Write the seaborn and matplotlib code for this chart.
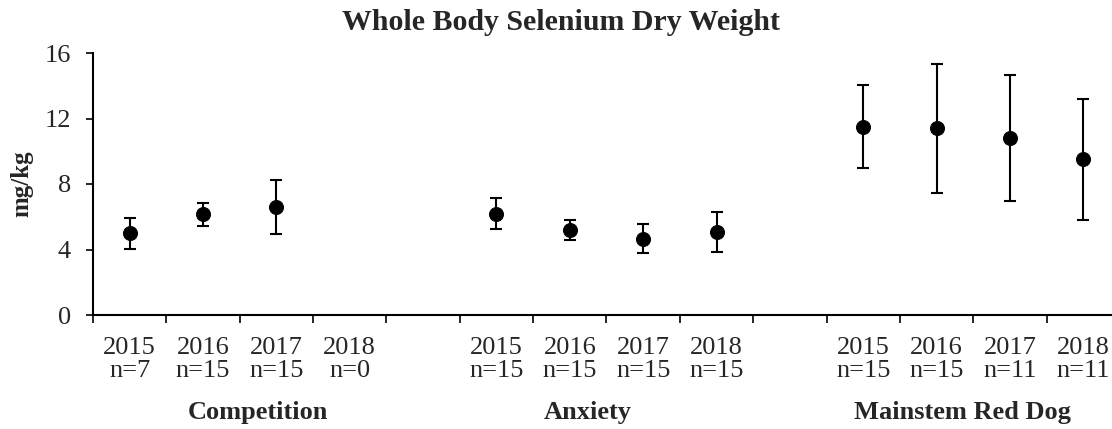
import numpy as np
import pandas as pd
import matplotlib
matplotlib.use('Agg')
import matplotlib.pyplot as plt
import matplotlib.transforms as mtransforms
import seaborn as sns

sns.set_style('ticks')
plt.rcParams['font.family'] = ['Liberation Serif', 'DejaVu Serif']

# data
sites = ['Competition', 'Anxiety', 'Mainstem Red Dog']
years = [2015, 2016, 2017, 2018]
n_counts = [7, 15, 15, 0,
            15, 15, 15, 15,
            15, 15, 11, 11]
means = [5.0, 6.15, 6.58, np.nan,
         6.19, 5.19, 4.66, 5.07,
         11.5, 11.4, 10.81, 9.51]
errs = [0.95, 0.70, 1.65, np.nan,
        0.93, 0.62, 0.88, 1.22,
        2.53, 3.92, 3.87, 3.70]

rows = []
for g, site in enumerate(sites):
    for i, yr in enumerate(years):
        k = g * 4 + i
        rows.append({'site': site, 'year': yr, 'n': n_counts[k],
                     'slot': g * 5 + i, 'mean': means[k], 'err': errs[k]})
df = pd.DataFrame(rows)

fig = plt.figure(figsize=(11.12, 4.29), dpi=100)
ax = fig.add_axes([93 / 1112, 114 / 429, (1120 - 93) / 1112, (315 - 53) / 429])

ax.errorbar(df['slot'], df['mean'], yerr=df['err'], fmt='none', ecolor='black',
            elinewidth=1.5, capsize=4.5, capthick=1.5, zorder=2)
sns.scatterplot(data=df, x='slot', y='mean', color='black', edgecolor='black',
                s=100, ax=ax, zorder=3, legend=False)

n_slots = len(sites) * 5 - 1
ax.set_xlim(-0.5, n_slots - 0.5)
ax.set_ylim(0, 16)
ax.set_yticks([0, 4, 8, 12, 16])

# category boundaries as major ticks, labels on minor ticks
ax.set_xticks(np.arange(-0.5, n_slots, 1.0))
ax.set_xticklabels([])
lab = {r.slot: f"{r.year}\nn={r.n}" for r in df.itertuples()}
ax.set_xticks(np.arange(n_slots), minor=True)
ax.set_xticklabels([lab.get(s, '') for s in range(n_slots)], minor=True,
                   fontsize=19, linespacing=1.05)
ax.tick_params(axis='x', which='major', direction='out', length=6, width=1.4)
ax.tick_params(axis='x', which='minor', length=0, pad=16)
ax.tick_params(axis='y', direction='out', length=5, width=1.4, labelsize=19, pad=11)

sns.despine(ax=ax)
for sp in ['left', 'bottom']:
    ax.spines[sp].set_linewidth(1.5)
    ax.spines[sp].set_color('black')
ax.spines['bottom'].set_zorder(1)

ax.set_xlabel('')
ax.set_ylabel('mg/kg', fontsize=18, fontweight='bold', labelpad=8)

trans = mtransforms.blended_transform_factory(ax.transData, fig.transFigure)
for site, xc in zip(sites, [1.75, 6.24, 11.35]):
    ax.text(xc, 1 - 412 / 429, site, transform=trans, ha='center', va='center',
            fontsize=19, fontweight='bold')

fig.text(561 / 1112, 1 - 23 / 429, 'Whole Body Selenium Dry Weight',
         ha='center', va='center', fontsize=21.5, fontweight='bold')

fig.savefig('out.png', dpi=100)
